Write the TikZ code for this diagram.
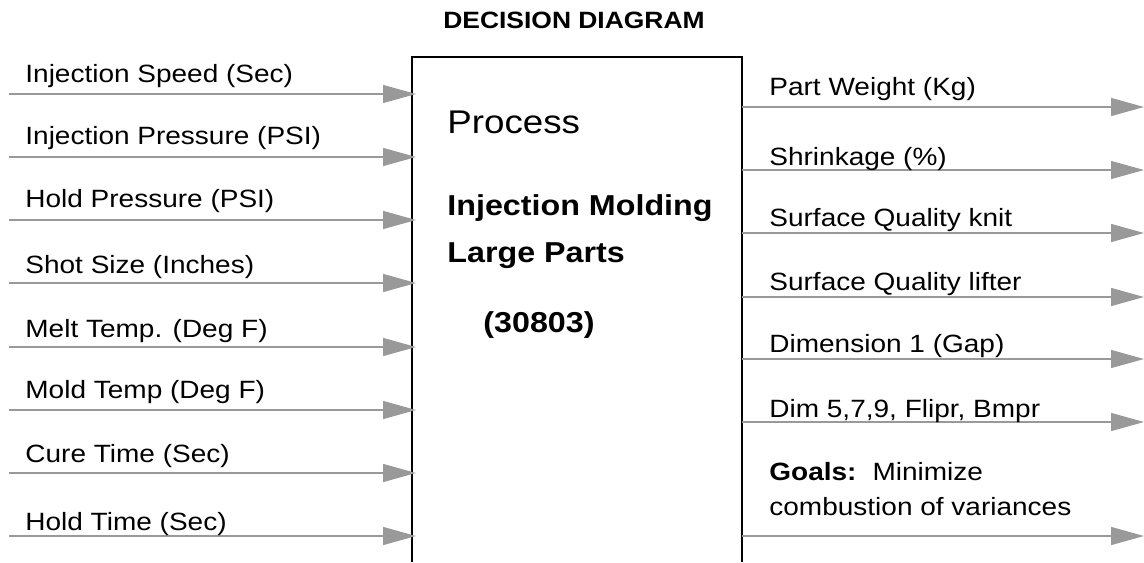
\documentclass[tikz,border=0pt]{standalone}
\usepackage{fontspec}
\setmainfont{Liberation Sans}[FakeStretch=1.12]
\usepackage{tikz}
\usetikzlibrary{arrows.meta}

\definecolor{flowgray}{RGB}{153,153,153}
\tikzset{
  flow/.style={draw=flowgray, line width=0.7pt,
    -{Triangle[length=16.5pt,width=9pt]}},
  lbl/.style={anchor=base west, inner sep=0pt,
    font=\fontsize{12.5}{15}\selectfont},
  boxtxt/.style={anchor=base west, inner sep=0pt,
    font=\fontsize{14.4}{17}\selectfont\bfseries}
}

\begin{document}
\begin{tikzpicture}[x=0.5pt,y=-0.5pt]
  \useasboundingbox (0,0) rectangle (1144,562);

  %% Title
  \node[inner sep=0pt, anchor=base, font=\fontsize{11.8}{14}\selectfont\bfseries]
    (TITLE) at (574,28) {DECISION DIAGRAM};

  %% The process box, left open at the bottom
  \coordinate (BL) at (412,562);
  \coordinate (TL) at (412,57);
  \coordinate (TR) at (742,57);
  \coordinate (BR) at (742,562);
  \draw[line width=1pt] (BL) -- (TL) -- (TR) -- (BR);

  \node[anchor=base west, inner sep=0pt, font=\fontsize{16.4}{20}\selectfont]
    (PROC) at (447,133) {Process};
  \node[boxtxt] (NAME1) at (447,215) {Injection Molding};
  \node[boxtxt] (NAME2) at (447,262) {Large Parts};
  \node[boxtxt] (CODE) at (483,332) {(30803)};

  %% Inputs: line y / text baseline / label
  \foreach \y/\b/\txt [count=\i] in {94/82/Injection Speed (Sec),
      157/144/Injection Pressure (PSI), 220/207/Hold Pressure (PSI),
      283/273/Shot Size (Inches), 347/337/Melt Temp. (Deg F),
      410/398/Mold Temp (Deg F), 473/462/Cure Time (Sec),
      536/530/Hold Time (Sec)}
  {
    \coordinate (IS\i) at (9,\y);
    \coordinate (IE\i) at (416,\y);
    \draw[flow] (IS\i) -- (IE\i);
    \node[lbl] (IN\i) at (25,\b) {\txt};
  }

  %% Outputs
  \foreach \y/\b/\txt [count=\i] in {107/95/Part Weight (Kg),
      170/165/Shrinkage (\%), 233/226/Surface Quality knit,
      297/290/Surface Quality lifter, 359/352/Dimension 1 (Gap),
      422/417/{Dim 5,7,9, Flipr, Bmpr}}
  {
    \coordinate (OS\i) at (742,\y);
    \coordinate (OE\i) at (1144,\y);
    \draw[flow] (OS\i) -- (OE\i);
    \node[lbl] (OUT\i) at (769,\b) {\txt};
  }
  \coordinate (OS7) at (742,536);
  \coordinate (OE7) at (1144,536);
  \draw[flow] (OS7) -- (OE7);
  \node[lbl] (GOAL1) at (769,480) {\textbf{Goals:}\hspace{8pt}Minimize};
  \node[lbl] (GOAL2) at (769,515) {combustion of variances};
\end{tikzpicture}
\end{document}
